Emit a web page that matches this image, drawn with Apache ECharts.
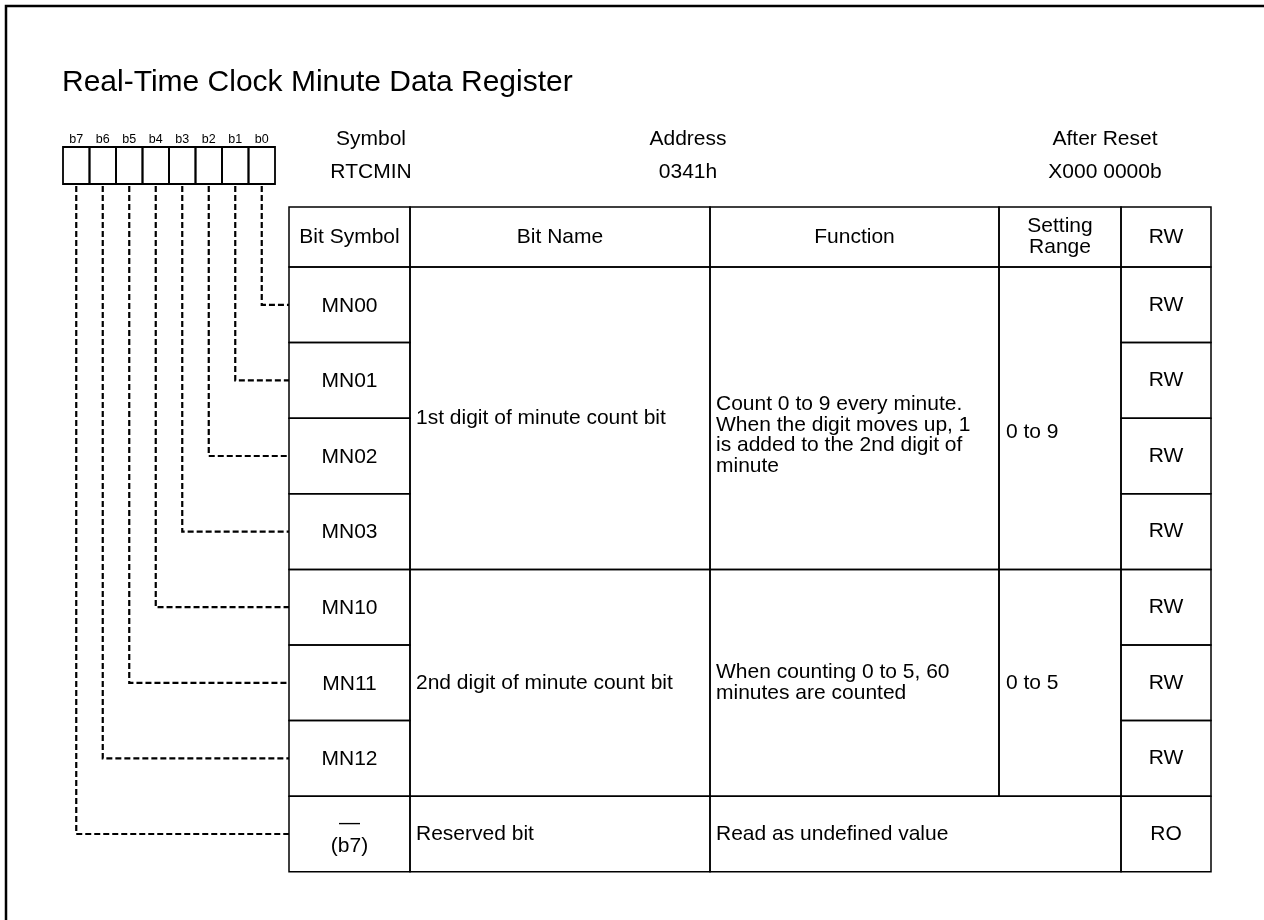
<!DOCTYPE html>
<html><head><meta charset="utf-8">
<script src="https://cdn.jsdelivr.net/npm/echarts@6/dist/echarts.min.js"></script>
<style>html,body{margin:0;padding:0;background:#fff}#c{width:1264px;height:920px}</style>
</head><body><div id="c"></div>
<script>
// ---------- data ----------
const TITLE = 'Real-Time Clock Minute Data Register';
const bitLabels = ['b7','b6','b5','b4','b3','b2','b1','b0'];
const infoLabels = ['Symbol','Address','After Reset'];
const infoValues = ['RTCMIN','0341h','X000 0000b'];
const headerLabels = ['Bit Symbol','Bit Name','Function','Setting\nRange','RW'];
const bitSymbols = ['MN00','MN01','MN02','MN03','MN10','MN11','MN12','—\n(b7)'];
const rowBits = [0,1,2,3,4,5,6,7];
const bitNames = ['1st digit of minute count bit','2nd digit of minute count bit','Reserved bit'];
const bitNameRows = [[0,3],[4,6],[7,7]];
const functions = ['Count 0 to 9 every minute.\nWhen the digit moves up, 1\nis added to the 2nd digit of\nminute','When counting 0 to 5, 60\nminutes are counted','Read as undefined value'];
const functionRows = [[0,3],[4,6],[7,7]];
const settingRanges = ['0 to 9','0 to 5'];
const settingRangeRows = [[0,3],[4,6]];
const accessModes = ['RW','RW','RW','RW','RW','RW','RW','RO'];

// ---------- layout (pixels) ----------
const L = {
  colX: [289, 410, 710, 999, 1121, 1211],
  headTop: 207, headBot: 267, rowH: 75.6,
  boxX0: 63, boxW: 26.5, boxTop: 147, boxBot: 184, bitLabelY: 140,
  infoX: [371, 688, 1105], infoY: [139, 172],
  pad: 6, fs: 21, lh: 20.5, gridW: 1.5, boxLW: 1.8,
  funcDy: [17, 0, 0], rangeDy: [14, 0]
};
const FONT = '"Liberation Sans", Arial, Helvetica, sans-serif';
const rowTop = r => L.headBot + r * L.rowH;

function T(api, x, y, s, align, size, lh) {
  const p = api.coord([x, y]);
  return {type:'text', x:p[0], y:p[1], style:{text:s, fill:'#000', fontSize:size||L.fs, fontFamily:FONT,
    align:align||'center', verticalAlign:'middle', lineHeight:lh||L.lh}};
}
function R(api, x0, y0, x1, y1, lw) {
  const a = api.coord([x0, y0]), b = api.coord([x1, y1]);
  return {type:'rect', shape:{x:a[0], y:a[1], width:b[0]-a[0], height:b[1]-a[1]},
    style:{fill:'none', stroke:'#000', lineWidth:lw||L.gridW}};
}
function custom(name, data, fn) {
  return {type:'custom', name, coordinateSystem:'cartesian2d', data, silent:true,
    renderItem:(params, api) => fn(params.dataIndex, api)};
}

const series = [
  custom('info', infoLabels.map((s,i)=>[i]), (i, api) => ({type:'group', children:[
    T(api, L.infoX[i], L.infoY[0], infoLabels[i]),
    T(api, L.infoX[i], L.infoY[1], infoValues[i])
  ]})),
  custom('bits', bitLabels.map((s,i)=>[i]), (i, api) => {
    const x0 = L.boxX0 + i * L.boxW;
    return {type:'group', children:[
      R(api, x0, L.boxTop, x0 + L.boxW, L.boxBot, L.boxLW),
      T(api, x0 + L.boxW/2, L.bitLabelY, bitLabels[i], 'center', 12.5)
    ]};
  }),
  custom('connectors', rowBits.map((b,r)=>[r,b]), (r, api) => {
    const box = 7 - rowBits[r];
    const cx = L.boxX0 + (box + 0.5) * L.boxW;
    const cy = rowTop(r) + L.rowH/2;
    const pts = [api.coord([cx, L.boxBot + 2]), api.coord([cx, cy]), api.coord([L.colX[0], cy])];
    return {type:'polyline', shape:{points:pts}, style:{fill:'none', stroke:'#000', lineWidth:2.2, lineDash:[6,3]}};
  }),
  custom('header', headerLabels.map((s,i)=>[i]), (i, api) => ({type:'group', children:[
    R(api, L.colX[i], L.headTop, L.colX[i+1], L.headBot),
    T(api, (L.colX[i]+L.colX[i+1])/2, (L.headTop+L.headBot)/2, headerLabels[i], 'center', L.fs, 21)
  ]})),
  custom('bitSymbol', bitSymbols.map((s,r)=>[r]), (r, api) => ({type:'group', children:[
    R(api, L.colX[0], rowTop(r), L.colX[1], rowTop(r+1)),
    T(api, (L.colX[0]+L.colX[1])/2, rowTop(r) + L.rowH/2 + 1, bitSymbols[r], 'center', L.fs, 23)
  ]})),
  custom('bitName', bitNames.map((s,g)=>[g]), (g, api) => {
    const [a,b] = bitNameRows[g];
    return {type:'group', children:[
      R(api, L.colX[1], rowTop(a), L.colX[2], rowTop(b+1)),
      T(api, L.colX[1] + L.pad, (rowTop(a)+rowTop(b+1))/2, bitNames[g], 'left')
    ]};
  }),
  custom('function', functions.map((s,g)=>[g]), (g, api) => {
    const [a,b] = functionRows[g];
    const hasRange = g < settingRanges.length;
    const x1 = hasRange ? L.colX[3] : L.colX[4];
    return {type:'group', children:[
      R(api, L.colX[2], rowTop(a), x1, rowTop(b+1)),
      T(api, L.colX[2] + L.pad, (rowTop(a)+rowTop(b+1))/2 + L.funcDy[g], functions[g], 'left')
    ]};
  }),
  custom('settingRange', settingRanges.map((s,g)=>[g]), (g, api) => {
    const [a,b] = settingRangeRows[g];
    return {type:'group', children:[
      R(api, L.colX[3], rowTop(a), L.colX[4], rowTop(b+1)),
      T(api, L.colX[3] + L.pad + 1, (rowTop(a)+rowTop(b+1))/2 + L.rangeDy[g], settingRanges[g], 'left')
    ]};
  }),
  custom('access', accessModes.map((s,r)=>[r]), (r, api) => ({type:'group', children:[
    R(api, L.colX[4], rowTop(r), L.colX[5], rowTop(r+1)),
    T(api, (L.colX[4]+L.colX[5])/2, rowTop(r) + L.rowH/2, accessModes[r])
  ]}))
];

const chart = echarts.init(document.getElementById('c'), null, {renderer:'canvas'});
chart.setOption({
  animation: false,
  backgroundColor: '#fff',
  title: {text: TITLE, left: 62, top: 68, padding: 0,
    textStyle: {fontSize: 30, fontWeight: 'normal', color: '#000', fontFamily: FONT}},
  grid: {left: 0, right: 0, top: 0, bottom: 0},
  xAxis: {type: 'value', min: 0, max: 1264, show: false},
  yAxis: {type: 'value', min: 0, max: 920, inverse: true, show: false},
  graphic: [{type:'rect', x:6, y:6, shape:{x:0, y:0, width:1400, height:1100},
    style:{fill:'none', stroke:'#000', lineWidth:2.5}, silent:true}],
  series
});
</script></body></html>
